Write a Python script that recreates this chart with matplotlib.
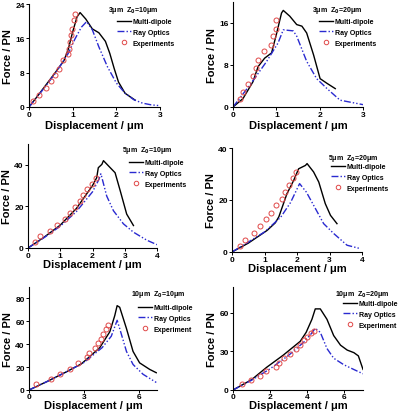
import matplotlib
matplotlib.use("Agg")
import matplotlib.pyplot as plt

plt.rcParams["font.family"] = ["Liberation Sans", "DejaVu Sans"]
plt.rcParams["font.weight"] = "bold"
plt.rcParams["mathtext.default"] = "bf"

# --- panel 1: 3um, Z0=10um ---
p1_md_x = [0, 0.2, 0.4, 0.6, 0.8, 0.9, 1.0, 1.1, 1.17, 1.3, 1.45, 1.6, 1.75, 1.85, 1.95, 2.05, 2.2, 2.43]
p1_md_y = [0, 2.6, 5.3, 8.0, 10.8, 13.5, 17.5, 21.0, 22.0, 20.5, 18.2, 17.3, 15.3, 12.5, 9.0, 5.8, 3.2, 1.6]
p1_ro_x = [0, 0.3, 0.6, 0.9, 1.05, 1.2, 1.32, 1.45, 1.6, 1.8, 2.0, 2.2, 2.4, 2.6, 2.8, 3.0]
p1_ro_y = [0, 3.8, 7.8, 12.5, 15.8, 18.6, 19.9, 18.0, 14.0, 9.3, 5.6, 3.2, 1.7, 0.9, 0.5, 0.3]
p1_ex_x = [0.1, 0.24, 0.39, 0.5, 0.6, 0.69, 0.79, 0.9, 0.92, 0.94, 0.96, 0.99, 1.02, 1.05]
p1_ex_y = [1.3, 2.9, 4.4, 6.0, 7.5, 8.9, 10.9, 12.4, 13.6, 15.1, 16.7, 18.2, 20.2, 21.7]

# --- panel 2: 3um, Z0=20um ---
p2_md_x = [0, 0.23, 0.46, 0.58, 0.73, 0.89, 1.0, 1.12, 1.16, 1.31, 1.47, 1.59, 1.7, 1.86, 2.01, 2.17, 2.36]
p2_md_y = [0, 1.6, 4.8, 7.7, 9.3, 10.3, 13.8, 17.9, 18.4, 17.3, 15.7, 15.4, 14.1, 9.9, 5.4, 4.5, 3.5]
p2_ro_x = [0, 0.39, 0.77, 1.04, 1.16, 1.39, 1.47, 1.7, 1.93, 2.17, 2.47, 3.0]
p2_ro_y = [0, 4.2, 8.6, 12.2, 14.7, 14.5, 13.5, 8.7, 5.4, 3.5, 1.3, 0.45]
p2_ex_x = [0.15, 0.23, 0.35, 0.45, 0.53, 0.58, 0.71, 0.87, 0.93, 0.99, 1.0]
p2_ex_y = [1.6, 2.9, 4.3, 6.0, 7.4, 9.0, 10.6, 11.9, 13.5, 14.9, 16.5]

# --- panel 3: 5um, Z0=10um ---
p3_md_x = [0, 0.5, 1.0, 1.5, 2.0, 2.13, 2.18, 2.29, 2.34, 2.55, 2.7, 2.86, 3.06, 3.27]
p3_md_y = [0, 5.2, 11.0, 19.0, 30.0, 33.8, 38.6, 40.2, 42.0, 38.6, 36.2, 27.5, 16.3, 10.8]
p3_ro_x = [0, 0.5, 1.0, 1.5, 2.0, 2.2, 2.26, 2.44, 2.65, 2.96, 3.27, 3.69, 4.0]
p3_ro_y = [0, 5.0, 10.5, 17.5, 27.0, 33.0, 35.7, 25.0, 17.9, 11.6, 7.6, 3.7, 1.6]
p3_ex_x = [0.21, 0.36, 0.68, 0.9, 1.14, 1.3, 1.45, 1.61, 1.71, 1.84, 1.97, 2.1]
p3_ex_y = [2.9, 5.6, 8.4, 11.1, 14.0, 16.8, 19.8, 22.7, 25.4, 28.3, 30.6, 33.8]

# --- panel 4: 5um, Z0=20um ---
p4_md_x = [0, 0.5, 1.08, 1.33, 1.44, 1.69, 1.9, 2.05, 2.26, 2.31, 2.51, 2.67, 2.87, 3.03, 3.23]
p4_md_y = [0, 3.4, 8.3, 11.2, 13.5, 22.4, 27.6, 32.0, 33.3, 34.0, 30.8, 26.9, 18.6, 14.1, 10.9]
p4_ro_x = [0, 0.5, 1.0, 1.5, 1.8, 2.08, 2.29, 2.51, 2.82, 3.13, 3.54, 3.95]
p4_ro_y = [0, 3.8, 7.7, 13.4, 19.0, 26.3, 23.0, 18.0, 10.9, 7.1, 2.6, 1.3]
p4_ex_x = [0.24, 0.41, 0.67, 0.85, 1.06, 1.2, 1.36, 1.54, 1.64, 1.74, 1.88, 1.98]
p4_ex_y = [2.2, 4.7, 7.3, 10.0, 12.6, 15.1, 17.9, 20.5, 23.1, 25.6, 28.5, 30.8]

# --- panel 5: 10um, Z0=10um ---
p5_md_x = [0, 1.0, 2.0, 2.87, 3.87, 4.42, 4.69, 4.82, 4.96, 5.33, 5.69, 6.05, 6.6, 6.96]
p5_md_y = [0, 7.5, 15.5, 22.9, 37.0, 50.9, 65.0, 73.7, 72.3, 53.7, 33.7, 23.7, 18.0, 15.1]
p5_ro_x = [0, 1.0, 2.0, 3.0, 4.0, 4.5, 4.82, 4.96, 5.33, 5.69, 6.24, 6.96]
p5_ro_y = [0, 7.5, 15.5, 24.0, 37.0, 47.0, 60.9, 53.7, 33.7, 22.3, 13.7, 6.6]
p5_ex_x = [0.38, 1.18, 1.69, 2.24, 2.69, 3.15, 3.29, 3.6, 3.78, 3.96, 4.05, 4.2, 4.33]
p5_ex_y = [5.1, 9.4, 13.7, 18.6, 23.7, 28.6, 32.3, 36.6, 40.9, 44.6, 48.6, 52.9, 56.6]

# --- panel 6: 10um, Z0=20um ---
p6_md_x = [0, 1.0, 1.81, 2.7, 3.62, 3.94, 4.25, 4.43, 4.7, 5.06, 5.42, 5.79, 6.15, 6.51, 6.75, 7.0]
p6_md_y = [0, 8.0, 17.6, 27.0, 37.8, 44.8, 54.9, 63.0, 63.0, 54.9, 42.3, 34.8, 31.0, 29.0, 26.5, 16.0]
p6_ro_x = [0, 1.0, 2.0, 3.0, 3.8, 4.2, 4.43, 4.7, 5.06, 5.42, 5.97, 6.51, 7.0]
p6_ro_y = [0, 7.6, 16.5, 27.0, 37.0, 43.5, 47.9, 44.8, 32.2, 24.7, 19.6, 15.9, 12.6]
p6_ex_x = [0.51, 0.99, 1.45, 1.77, 2.31, 2.5, 2.75, 3.07, 3.4, 3.62, 3.83, 4.01, 4.2, 4.34]
p6_ex_y = [4.5, 7.8, 10.8, 14.6, 18.1, 21.2, 24.7, 28.2, 31.7, 35.3, 38.5, 41.1, 44.1, 46.1]

titles = ["3\u03bcm  Z$_0$=10\u03bcm", "3\u03bcm  Z$_0$=20\u03bcm",
          "5\u03bcm  Z$_0$=10\u03bcm", "5\u03bcm  Z$_0$=20\u03bcm",
          "10\u03bcm  Z$_0$=10\u03bcm", "10\u03bcm  Z$_0$=20\u03bcm"]
exp_labels = ["Experiments"] * 4 + ["Experiment"] * 2
xlims = [3, 3, 4, 4, 7, 7]
ylims = [24, 20, 50, 40, 90, 80]
xticks = [[0, 1, 2, 3], [0, 1, 2, 3], [0, 1, 2, 3, 4], [0, 1, 2, 3, 4], [0, 3, 6], [0, 2, 4, 6]]
yticks = [[0, 8, 16, 24], [0, 8, 16], [0, 20, 40], [0, 20, 40], [0, 20, 40, 60, 80], [0, 30, 60]]

panels = [
    (p1_md_x, p1_md_y, p1_ro_x, p1_ro_y, p1_ex_x, p1_ex_y),
    (p2_md_x, p2_md_y, p2_ro_x, p2_ro_y, p2_ex_x, p2_ex_y),
    (p3_md_x, p3_md_y, p3_ro_x, p3_ro_y, p3_ex_x, p3_ex_y),
    (p4_md_x, p4_md_y, p4_ro_x, p4_ro_y, p4_ex_x, p4_ex_y),
    (p5_md_x, p5_md_y, p5_ro_x, p5_ro_y, p5_ex_x, p5_ex_y),
    (p6_md_x, p6_md_y, p6_ro_x, p6_ro_y, p6_ex_x, p6_ex_y),
]

W, H = 400, 414
# axes boxes in pixels: left, right, top, bottom
boxes = [(29, 160, 5, 108), (233, 363, 3, 108),
         (28, 157, 145, 249), (232, 362, 149, 253),
         (29, 157, 288, 391), (233, 363, 288, 391)]
# legend: title x, title y, entry text x, first row y
leg_pos = [(108, 10, 131, 23), (312, 10, 333, 23),
           (122, 150, 143, 164), (328, 159, 345, 168),
           (131, 295, 152, 309), (335, 295, 357, 305)]
xlabel_pads = [1, 1, 0, 0, -0.5, -0.5]
tick_pads = [1, 1, 1, 1, 0.5, 0.5]

blue = "#2a2ad0"
red = "#e04848"
dashdotdot = (0, (5, 1.5, 1, 1.5, 1, 1.5))

fig = plt.figure(figsize=(W / 100, H / 100), dpi=100)

for i, (mdx, mdy, rox, roy, exx, exy) in enumerate(panels):
    l, r, t, b = boxes[i]
    ax = fig.add_axes([l / W, 1 - b / H, (r - l) / W, (b - t) / H])
    ax.plot(mdx, mdy, color="black", lw=1.0, label="Multi-dipole")
    ax.plot(rox, roy, color=blue, lw=1.0, linestyle=dashdotdot, label="Ray Optics")
    ax.plot(exx, exy, linestyle="none", marker="o", ms=3.6, mfc="none",
            mec=red, mew=0.7, label=exp_labels[i])
    ax.set_xlim(0, xlims[i])
    ax.set_ylim(0, ylims[i])
    ax.set_xticks(xticks[i])
    ax.set_yticks(yticks[i])
    for side in ("top", "right"):
        ax.spines[side].set_visible(False)
    for side in ("left", "bottom"):
        ax.spines[side].set_linewidth(0.8)
    ax.tick_params(labelsize=6, length=2, width=0.7, pad=1)
    ax.tick_params(axis="x", pad=tick_pads[i])
    ax.set_xlabel("Displacement / \u03bcm", fontsize=8, fontweight="bold",
                  labelpad=xlabel_pads[i])
    ax.set_ylabel("Force / PN", fontsize=8, fontweight="bold", labelpad=2)

    tx, ty, ex, ey = leg_pos[i]
    fig.text(tx / W, 1 - ty / H, titles[i], fontsize=5.0, fontweight="bold",
             ha="left", va="center")
    ax.legend(loc="upper left", bbox_to_anchor=((ex - 14) / W, 1 - (ey - 4) / H),
              bbox_transform=fig.transFigure, frameon=False, fontsize=5.0,
              borderpad=0, borderaxespad=0, handlelength=2.0, handletextpad=0.3,
              labelspacing=0.55, markerscale=0.9)

fig.savefig("out.png", dpi=100)
